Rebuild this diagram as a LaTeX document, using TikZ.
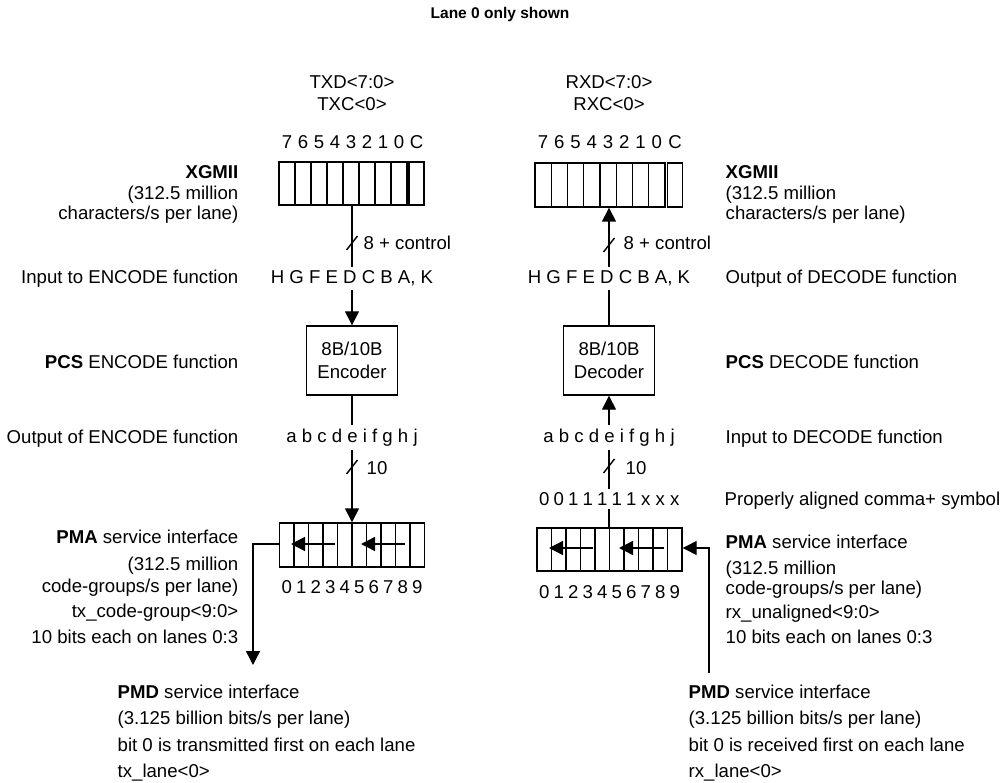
\documentclass[tikz,border=0pt]{standalone}
\usepackage{fontspec}
\setmainfont{Liberation Sans}
\usetikzlibrary{arrows.meta}
\newcommand\fsz{\fontsize{18.6}{23}\selectfont}
\begin{document}
\begin{tikzpicture}[x=1pt,y=-1pt,line width=1.4pt,
  txt/.style={inner sep=0pt,font=\fsz},
  lab/.style={txt,anchor=base east},
  rlab/.style={txt,anchor=base west},
  ctr/.style={txt,anchor=base},
  spn/.style={txt,anchor=base,inner ysep=3pt},
  arr/.style={-{Triangle[length=14pt,width=14pt]}},
  cellbox/.style={draw,inner sep=0pt,minimum width=#1,minimum height=43pt},
  fnbox/.style={draw,inner sep=0pt,minimum width=91pt,minimum height=69pt,align=center,font=\fsz}
]
\useasboundingbox (0,0) rectangle (1003,783);

% title
\node[txt,anchor=base,font=\bfseries\fontsize{15.5}{18}\selectfont] (title) at (500,19) {Lane 0 only shown};

% ================= TX side =================
\node[ctr] (txd) at (352,89) {TXD<7:0>};
\node[ctr] (txc) at (352,111) {TXC<0>};
\foreach \d [count=\i from 0] in {7,6,5,4,3,2,1,0}
  \node[ctr] at (287+16*\i,149) {\d};
\node[ctr] at (416.5,149) {C};
\node[cellbox=128pt] (txx) at (343,183.5) {};
\foreach \i in {1,...,7} \draw (279+16*\i,162) -- (279+16*\i,205);
\node[cellbox=15pt] (txxc) at (416.5,183.5) {};

\node[spn] (txhg) at (352,283.5) {H G F E D C B A, K};
\draw (txx.south -| txhg.base) -- (txhg.north);
\coordinate (txs1) at (352,243);
\draw ([shift={(-5.5,7)}]txs1) -- ([shift={(5.5,-7)}]txs1);
\node[rlab] (txs1l) at (363,249.5) {8 + control};

\node[fnbox] (enc) at (352,360.5) {8B/10B\\Encoder};
\draw[arr] (txhg.south) -- (enc.north);

\node[spn] (txabc) at (352,442) {a b c d e i f g h j};
\draw (enc.south) -- (txabc.north);

\node[cellbox=145pt,minimum height=44pt] (txpma) at (352,545) {};
\foreach \i in {1,...,9} \draw (279.5+14.5*\i,523) -- (279.5+14.5*\i,567);
\draw[arr] (txabc.south) -- (txpma.north);
\coordinate (txs2) at (352,467);
\draw ([shift={(-5.5,7)}]txs2) -- ([shift={(5.5,-7)}]txs2);
\node[rlab] (txs2l) at (366,474.5) {10};

\draw[arr] (335,544) -- (291,544);
\draw[arr] (405,544) -- (361,544);
\foreach \d in {0,...,9} \node[ctr] at (286.75+14.5*\d,593.5) {\d};

\coordinate (txout) at (253,665);
\draw[arr] (txpma.west |- 0,544) -| (txout);

% TX left labels
\node[lab,font=\fsz\bfseries] (l1) at (239,178.5) {XGMII};
\node[lab] (l2) at (239,199.5) {(312.5 million};
\node[lab] (l3) at (239,219.5) {characters/s per lane)};
\node[lab] (l4) at (239,283.5) {Input to ENCODE function};
\node[lab] (l5) at (239,368.5) {\textbf{PCS} ENCODE function};
\node[lab] (l6) at (239,443.5) {Output of ENCODE function};
\node[lab] (l7) at (239,543.5) {\textbf{PMA} service interface};
\node[lab] (l8) at (239,570.5) {(312.5 million};
\node[lab] (l9) at (239,592.5) {code-groups/s per lane)};
\node[lab] (l10) at (239,617.5) {tx\_code-group<9:0>};
\node[lab] (l11) at (239,643.5) {10 bits each on lanes 0:3};

\node[rlab] (p1) at (117,698.5) {\textbf{PMD} service interface};
\node[rlab] (p2) at (117,724.5) {(3.125 billion bits/s per lane)};
\node[rlab] (p3) at (117,751.5) {bit 0 is transmitted first on each lane};
\node[rlab] (p4) at (117,777.5) {tx\_lane<0>};

% ================= RX side =================
\node[ctr] (rxd) at (609,89) {RXD<7:0>};
\node[ctr] (rxc) at (609,111) {RXC<0>};
\foreach \d [count=\i from 0] in {7,6,5,4,3,2,1,0}
  \node[ctr] at (543.1+16.25*\i,149) {\d};
\node[ctr] at (675,149) {C};
\node[cellbox=130pt,minimum height=44pt] (rxx) at (600,185) {};
\foreach \i in {1,...,7} \draw (535+16.25*\i,163) -- (535+16.25*\i,207);
\node[cellbox=15.5pt,minimum height=44pt] (rxxc) at (675,185) {};

\node[spn] (rxhg) at (609,283.5) {H G F E D C B A, K};
\draw[arr] (rxhg.north) -- (rxx.south -| rxhg.base);
\coordinate (rxs1) at (609,245);
\draw ([shift={(-5.5,7)}]rxs1) -- ([shift={(5.5,-7)}]rxs1);
\node[rlab] (rxs1l) at (623,249.5) {8 + control};

\node[fnbox] (dec) at (609,360.5) {8B/10B\\Decoder};
\draw (dec.north) -- (rxhg.south);

\node[spn] (rxabc) at (609,442) {a b c d e i f g h j};
\draw[arr] (rxabc.north) -- (dec.south);

\node[txt,minimum width=145pt,minimum height=18pt] (rxbits) at (609.5,499) {};
\foreach \d [count=\i from 0] in {0,0,1,1,1,1,1,x,x,x}
  \node[ctr] at (544.25+14.5*\i,505.5) {\d};
\draw (rxbits.north -| rxabc.base) -- (rxabc.south);
\coordinate (rxs2) at (609,466);
\draw ([shift={(-5.5,7)}]rxs2) -- ([shift={(5.5,-7)}]rxs2);
\node[rlab] (rxs2l) at (625,474.5) {10};

\node[cellbox=145pt] (rxpma) at (609.5,549.5) {};
\foreach \i in {1,...,9} \draw (537+14.5*\i,528) -- (537+14.5*\i,571);
\draw (rxpma.north -| rxabc.base) -- (rxbits.south -| rxabc.base);

\draw[arr] (593,548) -- (549,548);
\draw[arr] (664,548) -- (619,548);
\foreach \d in {0,...,9} \node[ctr] at (544.25+14.5*\d,598) {\d};

\coordinate (rxin) at (709,673);
\draw[arr] (rxin) |- (rxpma.east |- 0,548);

% RX right labels
\node[rlab,font=\fsz\bfseries] (r1) at (725,178.5) {XGMII};
\node[rlab] (r2) at (725,199.5) {(312.5 million};
\node[rlab] (r3) at (725,219.5) {characters/s per lane)};
\node[rlab] (r4) at (725,283.5) {Output of DECODE function};
\node[rlab] (r5) at (725,368.5) {\textbf{PCS} DECODE function};
\node[rlab] (r6) at (725,443.5) {Input to DECODE function};
\node[rlab] (r7) at (724,505.5) {Properly aligned comma+ symbol};
\node[rlab] (r8) at (725,548.5) {\textbf{PMA} service interface};
\node[rlab] (r9) at (725,574.5) {(312.5 million};
\node[rlab] (r10) at (725,594.5) {code-groups/s per lane)};
\node[rlab] (r11) at (725,618.5) {rx\_unaligned<9:0>};
\node[rlab] (r12) at (725,643.5) {10 bits each on lanes 0:3};

\node[rlab] (q1) at (688,698.5) {\textbf{PMD} service interface};
\node[rlab] (q2) at (688,724.5) {(3.125 billion bits/s per lane)};
\node[rlab] (q3) at (688,751.5) {bit 0 is received first on each lane};
\node[rlab] (q4) at (688,777.5) {rx\_lane<0>};
\end{tikzpicture}
\end{document}
